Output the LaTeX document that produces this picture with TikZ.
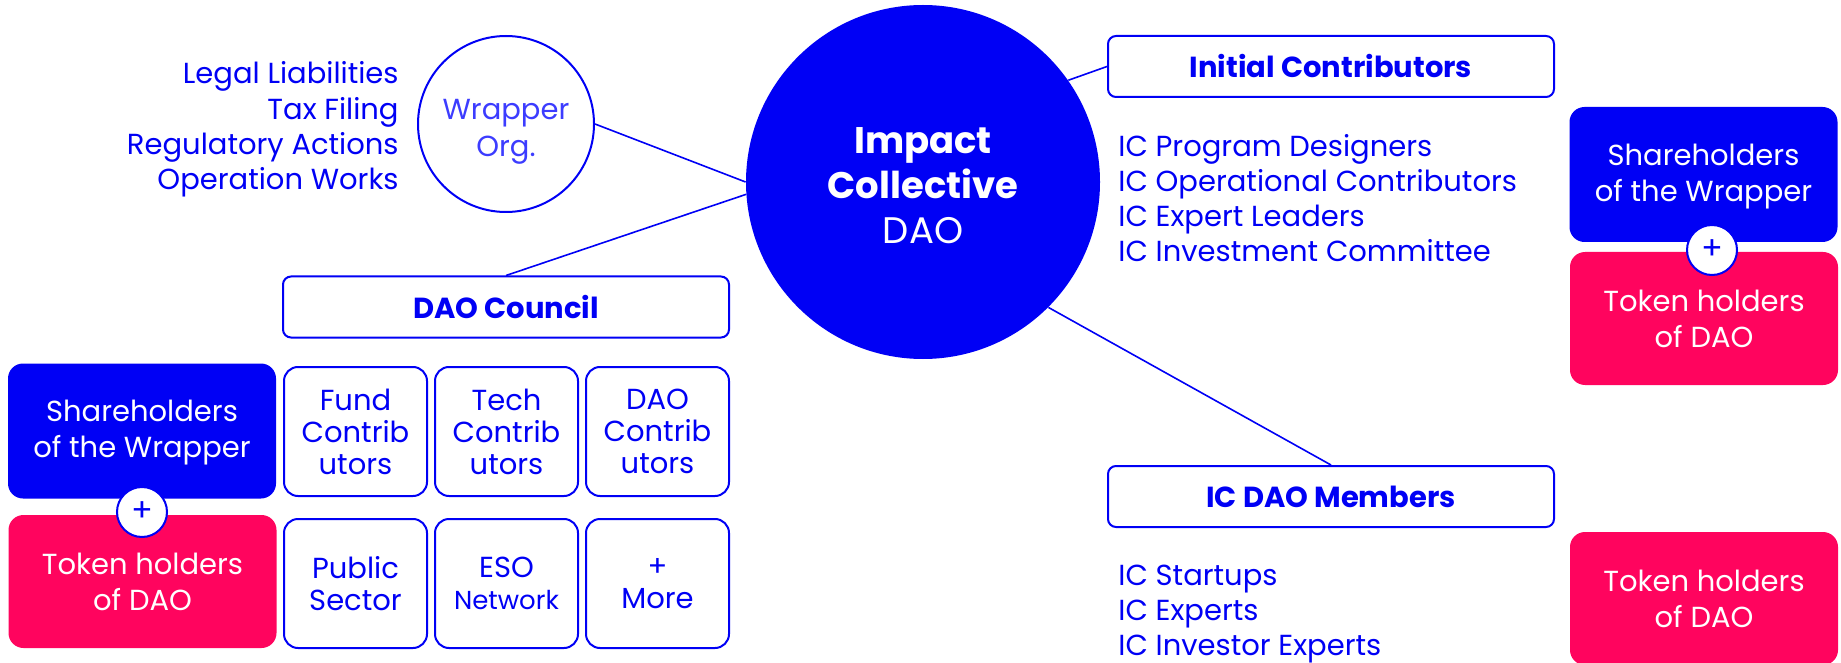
\documentclass[tikz,border=0pt]{standalone}
\usepackage{fontspec}
\setmainfont{Poppins}
\usetikzlibrary{positioning}
\definecolor{icblue}{RGB}{0,0,245}
\definecolor{icpink}{RGB}{255,4,94}
\definecolor{wrapblue}{RGB}{60,60,255}
\newcommand\topstrut[1]{\rule{0pt}{#1}}

\begin{document}
\begin{tikzpicture}[x=0.5pt,y=-0.5pt,node distance=3pt,
                text=icblue,font=\fontsize{14.5}{17.6}\selectfont,
                hub node/.style={circle,fill=icblue,text=white,minimum size=177pt,inner sep=0pt,align=center,font=\fontsize{18.5}{22.5}\selectfont},
                wrap node/.style={circle,draw=icblue,line width=1pt,minimum size=88pt,inner sep=0pt,text=wrapblue,align=center,font=\fontsize{14.5}{18.5}\selectfont},
                title box/.style={draw=icblue,line width=1pt,rounded corners=4pt,minimum width=223pt,minimum height=30.5pt,inner sep=0pt,font=\bfseries\fontsize{14.5}{17}\selectfont},
                grid box/.style={draw=icblue,line width=1pt,rounded corners=7pt,minimum width=71.5pt,minimum height=64.5pt,inner sep=0pt,align=center,font=\fontsize{14.5}{16}\selectfont},
                share box/.style={fill=icblue,text=white,rounded corners=7.5pt,minimum width=134pt,minimum height=67.5pt,inner sep=0pt,align=center,font=\fontsize{14.5}{18}\selectfont},
                token box/.style={share box,fill=icpink,minimum height=66.5pt},
                plus node/.style={circle,draw=icblue,fill=white,line width=1pt,minimum size=25pt,inner sep=0pt,font=\fontsize{16}{16}\selectfont},
                list node/.style={inner sep=0pt,align=left,font=\fontsize{14.5}{17.6}\selectfont}]
	\useasboundingbox (0,0) rectangle (1841,663);

	% centre and wrapper
	\node[hub node] (hub) at (923,182) {\topstrut{17pt}\textbf{Impact}\\\textbf{Collective}\\DAO};
	\node[wrap node] (wrapper) at (506,124) {\topstrut{17.5pt}Wrapper\\Org.};
	\node[list node,align=right,anchor=east] (duties) at (399,129.5) {Legal Liabilities\\Tax Filing\\Regulatory Actions\\Operation Works};

	% right side
	\node[title box] (initial) at (1331,66.5) {Initial Contributors};
	\node[list node,anchor=west] (iclist) at (1118,198) {IC Program Designers\\IC Operational Contributors\\IC Expert Leaders\\IC Investment Committee};
	\node[share box] (rshare) at (1703.5,174.5) {\topstrut{12.5pt}Shareholders\\of the Wrapper};
	\node[token box] (rtoken) at (1704,318.5) {Token holders\\of DAO};
	\node[plus node] (rplus) at (1712,250) {+};

	\node[title box] (members) at (1331,496.5) {IC DAO Members};
	\node[list node,anchor=west] (memberlist) at (1118,614) {IC Startups\\IC Experts\\IC Investor Experts};
	\node[token box] (ltoken2) at (1704,598.5) {Token holders\\of DAO};

	% left side
	\node[title box] (council) at (506,307) {DAO Council};
	\node[grid box] (fund) at (355.5,431.5) {Fund\\Contrib\\utors};
	\node[grid box] (tech) [right=of fund] {Tech\\Contrib\\utors};
	\node[grid box] (daoc) [right=of tech] {DAO\\Contrib\\utors};
	\node[grid box] (public) [below=10.5pt of fund] {Public\\Sector};
	\node[grid box] (eso) [right=of public] {ESO\\{\fontsize{13}{16}\selectfont Network}};
	\node[grid box] (more) [right=of eso] {+\\More};
	\node[share box] (lshare) at (142,431) {\topstrut{12pt}Shareholders\\of the Wrapper};
	\node[token box] (ltoken) at (142.5,581.5) {Token holders\\of DAO};
	\node[plus node] (lplus) at (142,512) {+};

	\path[draw=icblue,line width=0.8pt]
	(wrapper.east) edge (hub.180)
	(council.north) edge (hub.184)
	(hub.35) edge (initial.west)
	(hub.-45) edge (members.north);

\end{tikzpicture}
\end{document}
